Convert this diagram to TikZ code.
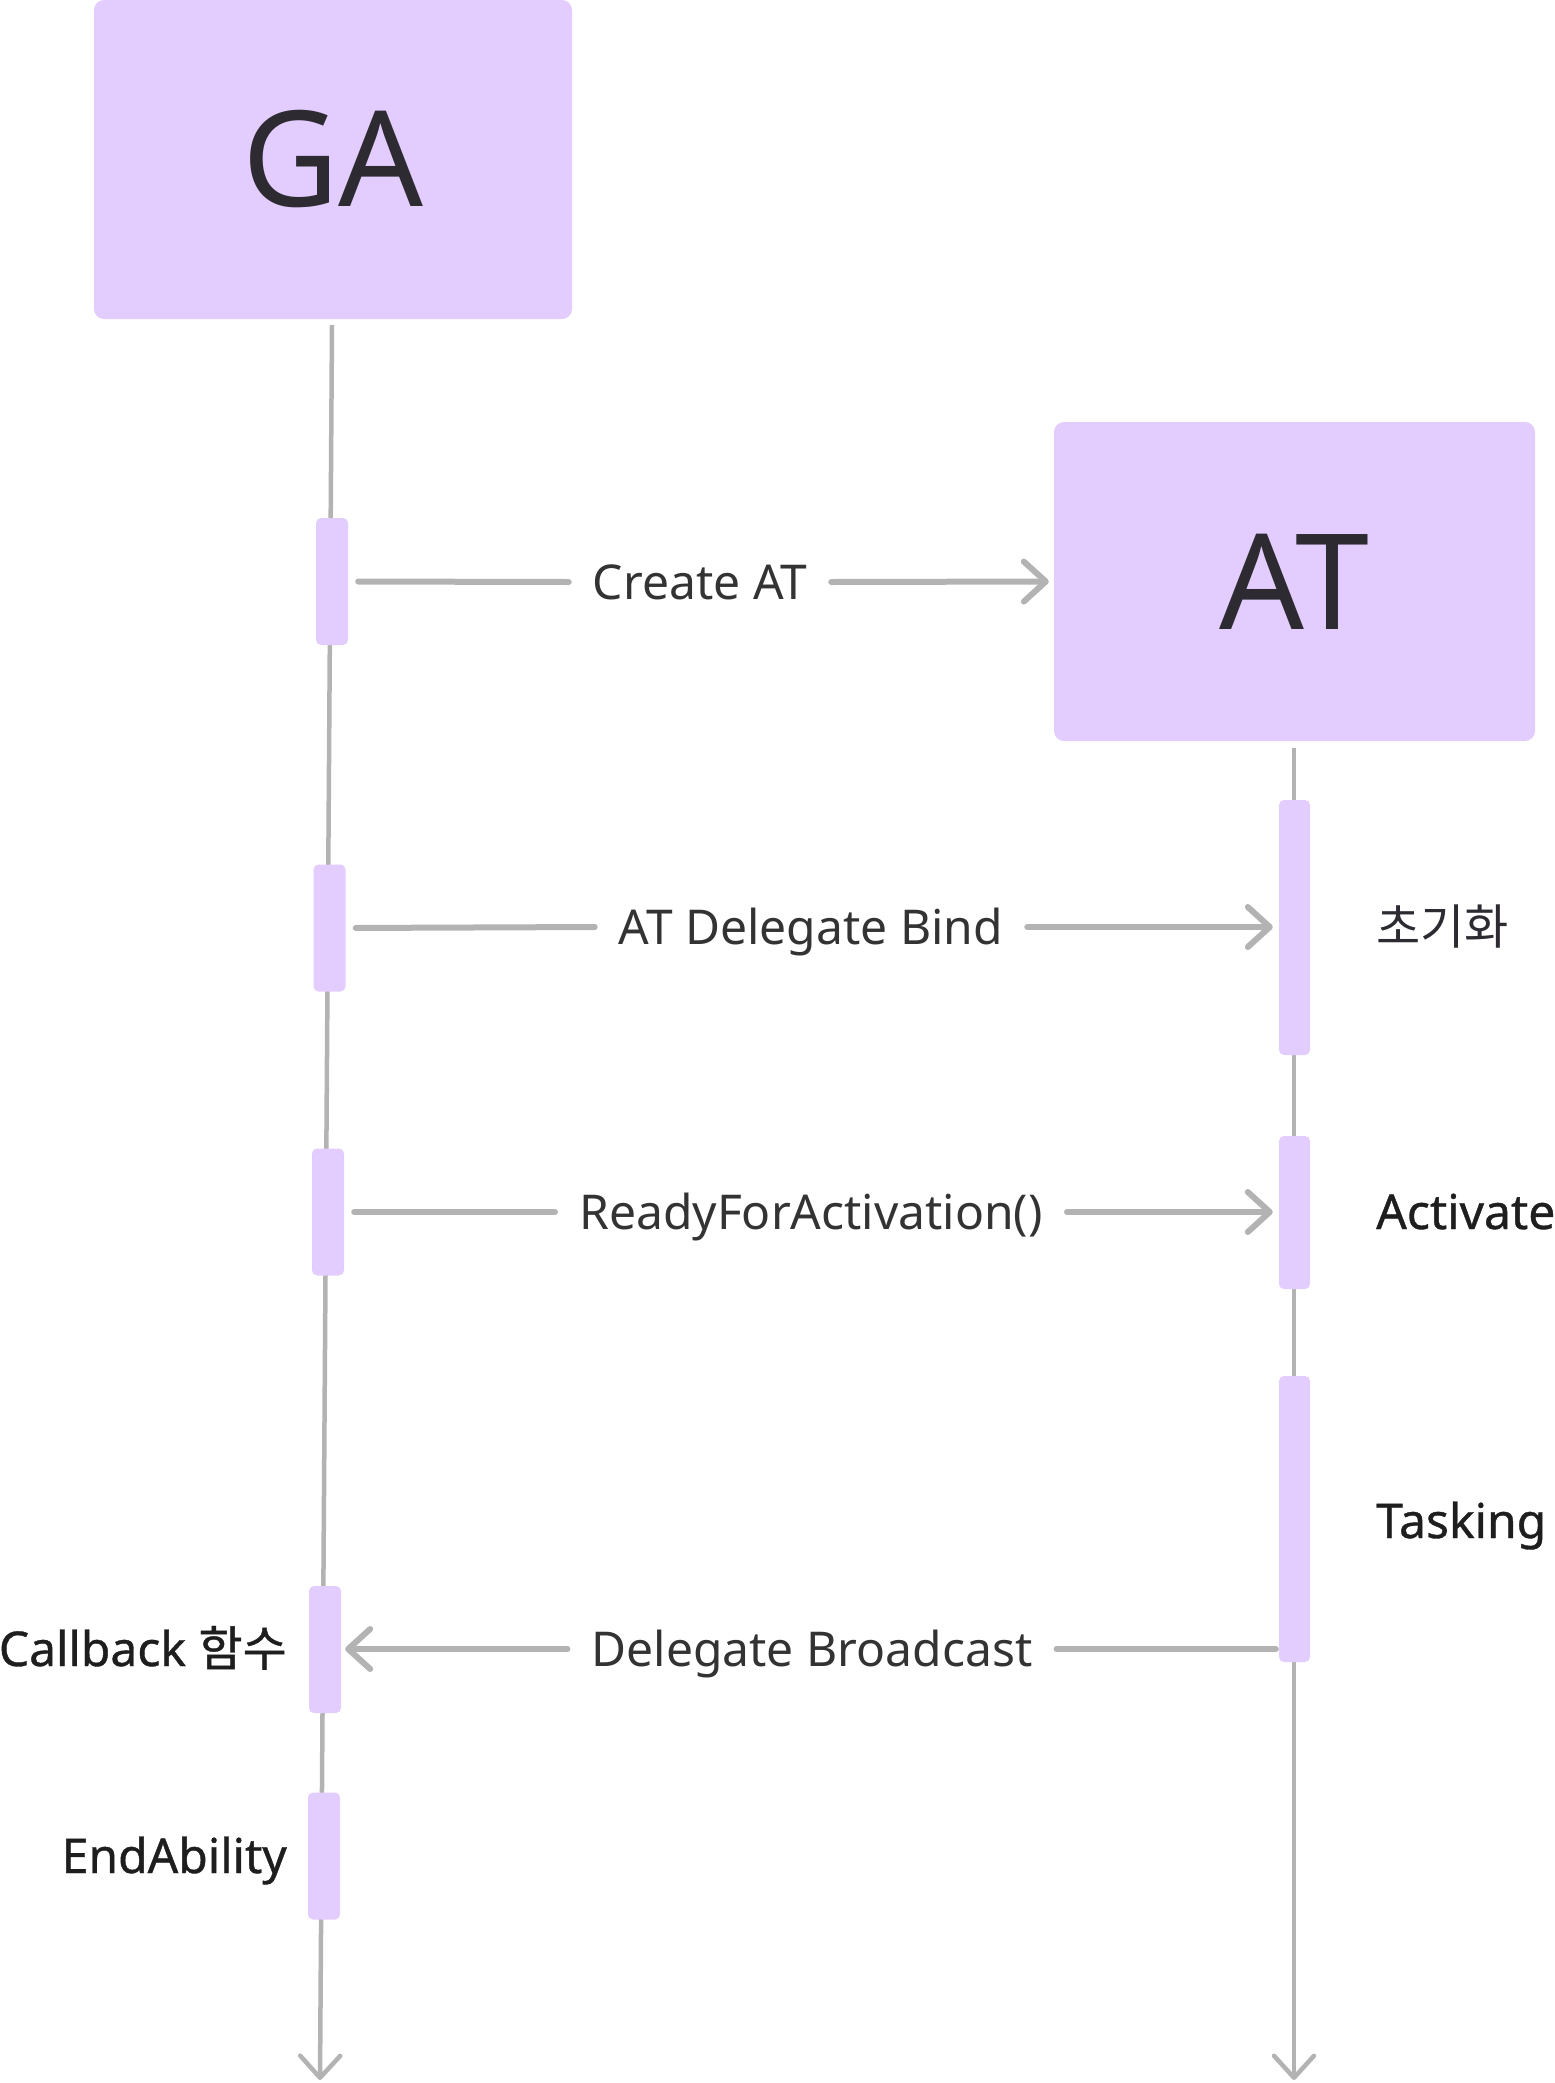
\documentclass[tikz,border=0pt]{standalone}
\usepackage{fontspec}
\setmainfont{Noto Sans}
\newfontfamily\kr{Noto Sans CJK KR}
\newfontfamily\med[FakeBold=0.8]{Noto Sans}
\newfontfamily\krmed[FakeBold=0.8]{Noto Sans CJK KR}
\usetikzlibrary{arrows.meta}
\definecolor{lav}{HTML}{E3CCFE}
\definecolor{lgray}{HTML}{B3B3B3}
\definecolor{ink}{HTML}{2D2A32}
\definecolor{msgink}{HTML}{333333}
\definecolor{sideink}{HTML}{1E1E1E}
\begin{document}
\begin{tikzpicture}[x=1pt,y=-1pt,
  actor/.style={fill=lav, rounded corners=10pt, minimum height=319pt, inner sep=0pt, text=ink, font=\fontsize{133}{133}\selectfont},
  actbar/.style={fill=lav, rounded corners=5pt, minimum width=32pt, inner sep=0pt},
  life/.style={draw=lgray, line width=4.5pt},
  msg/.style={draw=lgray, line width=6pt, line cap=round, line join=round},
  tip/.style={-{Straight Barb[length=22pt,width=40pt,round]}},
  lbl/.style={text=msgink, font=\fontsize{48}{48}\selectfont, inner xsep=24pt, inner ysep=0pt, text height=34pt, text depth=0pt},
  side/.style={text=sideink, font=\fontsize{48}{48}\selectfont\med, inner sep=0pt, text height=34pt, text depth=0pt}
]
\useasboundingbox (0,0) rectangle (1555,2083);
% actors
\node[actor, minimum width=478pt] (ga) at (333,159.5) {GA};
\node[actor, minimum width=481pt] (at) at (1294.5,581.5) {AT};
% lifelines
\coordinate (gaEnd) at (320,2080);
\coordinate (atEnd) at (1294,2080);
\draw[life, tip] ([xshift=-1pt,yshift=-6pt]ga.south) -- (gaEnd);
\draw[life, tip] ([xshift=-0.5pt,yshift=-7pt]at.south) -- (atEnd);
% activation bars GA
\node[actbar, minimum height=127pt] (g1) at (332,581.5) {};
\node[actbar, minimum height=127pt] (g2) at (329.5,928) {};
\node[actbar, minimum height=127pt] (g3) at (328,1212) {};
\node[actbar, minimum height=127pt] (g4) at (325,1649.5) {};
\node[actbar, minimum height=127pt] (g5) at (324,1856) {};
% activation bars AT
\node[actbar, minimum width=31pt, minimum height=255pt] (a1) at (1294.5,927.5) {};
\node[actbar, minimum width=31pt, minimum height=153pt] (a2) at (1294.5,1212.5) {};
\node[actbar, minimum width=31pt, minimum height=286pt] (a3) at (1294.5,1519) {};
% messages
\node[lbl] (m1) at (700,582) {Create AT};
\node[lbl] (m2) at (811,927) {AT Delegate Bind};
\node[lbl] (m3) at (811,1212) {ReadyForActivation()};
\node[lbl] (m4) at (812,1649) {Delegate Broadcast};
\draw[msg, shorten <=10pt] (g1.east) -- (m1.west);
\draw[msg, tip, shorten >=5pt] (m1.east) -- (at.west);
\draw[msg, shorten <=10pt] (g2.east) -- (m2.west);
\draw[msg, tip, shorten >=6pt] (m2.east) -- (m2.east -| a1.west);
\draw[msg, shorten <=10pt] (g3.east) -- (m3.west);
\draw[msg, tip, shorten >=6pt] (m3.east) -- (m3.east -| a2.west);
\draw[msg, shorten >=3pt] (m4.east) -- (m4.east -| a3.west);
\draw[msg, tip, shorten >=4pt] (m4.west) -- (m4.west -| g4.east);
% side labels
\node[side, anchor=west, text=ink] (s1) at (1376,927) {\kr 초기화};
\node[side, anchor=west] (s2) at (1376,1212) {Activate};
\node[side, anchor=west] (s3) at (1376,1521) {Tasking};
\node[side, anchor=east] (s4) at (287,1649) {Callback {\krmed 함수}};
\node[side, anchor=east] (s5) at (287,1856) {EndAbility};
\end{tikzpicture}
\end{document}
